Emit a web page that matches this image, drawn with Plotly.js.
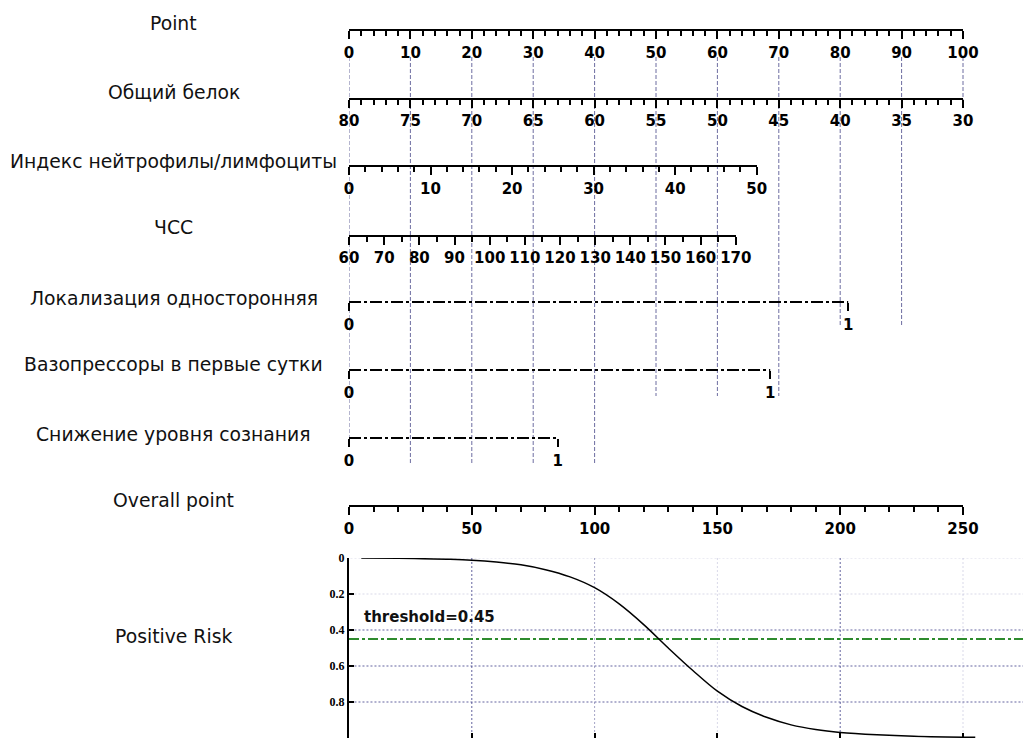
<!DOCTYPE html>
<html>
<head>
<meta charset="utf-8">
<script src="https://cdn.plot.ly/plotly-3.0.1.min.js"></script>
<style>html,body{margin:0;padding:0;background:#fff;}#chart{width:1023px;height:740px;}</style>
</head>
<body>
<div id="chart"></div>
<script>
// ---------------- DATA ----------------
const rowLabels = ['Point', 'Общий белок', 'Индекс нейтрофилы/лимфоциты', 'ЧСС',
  'Локализация односторонняя', 'Вазопрессоры в первые сутки', 'Снижение уровня сознания',
  'Overall point', 'Positive Risk'];

const pointRange   = [0, 100];
const proteinRange = [80, 30];   const proteinPts = [0, 100];
const nlrRange     = [0, 50];    const nlrPts     = [0, 66.4];
const hrRange      = [60, 170];  const hrPts      = [0, 63.0];
const localRange   = [0, 1];     const localPts   = [0, 81.3];
const vasoRange    = [0, 1];     const vasoPts    = [0, 68.6];
const conscRange   = [0, 1];     const conscPts   = [0, 34.0];
const overallRange = [0, 250];

const guidePoints = [0, 10, 20, 30, 40, 50, 60, 70, 80, 90, 100];

const riskOverall = [5, 20, 30, 40, 50, 60, 70, 80, 90, 100, 110, 120, 130, 140, 150, 160, 170, 180, 190, 200, 215, 230, 255];
const riskValues  = [0.0, 0.002, 0.004, 0.007, 0.012, 0.022, 0.038, 0.065, 0.105, 0.165, 0.255, 0.37, 0.5, 0.625, 0.74, 0.825, 0.885, 0.927, 0.953, 0.969, 0.982, 0.99, 0.996];
const threshold = 0.45;
const riskTicks = [0, 0.2, 0.4, 0.6, 0.8, 1];
const riskTickText = ['0', '0.2', '0.4', '0.6', '0.8', '1'];
const riskXTicks = [50, 100, 150, 200, 250];

// ---------------- LAYOUT GEOMETRY / STYLE ----------------
const H = 740, L = 349, W = 674, PTS_PX = 614;      // plot area; 100 points = 614 px
const rowY = {point: 30, protein: 99, nlr: 166, hr: 236, local: 302, vaso: 370, consc: 438, overall: 506};
const labelY = [23, 93, 161, 228, 298, 365, 434, 500, 636];
const labelCx = 174;
const guideTop = 57;
const guideEnds = [440, 463, 463, 463, 463, 396, 396, 396, 327, 327, 100];
const riskTop = 558, riskBottom = 738;
const gridStrong = 'rgba(60,60,135,0.8)', gridMid = 'rgba(90,90,150,0.55)', gridFaint = 'rgba(130,130,180,0.3)';
const hGridColors = [gridFaint, gridFaint, gridStrong, gridStrong, gridStrong];
const vGridColors = [gridStrong, gridMid, gridFaint, gridStrong, gridFaint];

const helperMax = 100 * W / PTS_PX;
const riskXMax = overallRange[1] * W / PTS_PX;
const frac = p => p / 100 * PTS_PX / W;
const pos = y => 1 - y / H;

const tickFont = {family: 'DejaVu Sans', size: 15, weight: 'bold', color: 'black'};

function scaleAxis(range, ptsEnd, y, opts) {
  const ax = {
    domain: [0, frac(ptsEnd)], range: range, autorange: false,
    anchor: 'free', position: pos(y), side: 'bottom',
    showline: true, linewidth: 2, linecolor: 'black',
    ticks: 'outside', ticklen: 8, tickwidth: 2, tickcolor: 'black',
    showgrid: false, zeroline: false, tickfont: tickFont, fixedrange: true,
    ticklabelstandoff: 1
  };
  return Object.assign(ax, opts || {});
}
function minor(d) { return {dtick: d, ticklen: 5, tickwidth: 2, tickcolor: 'black', ticks: 'outside', showgrid: false}; }

const layout = {
  width: 1023, height: 740,
  margin: {l: L, r: 0, t: 0, b: 0},
  paper_bgcolor: 'white', plot_bgcolor: 'rgba(0,0,0,0)',
  showlegend: false,
  xaxis: {domain: [0, 1], range: [0, helperMax], visible: false, fixedrange: true},
  yaxis: {domain: [0, 1], range: [H, 0], visible: false, fixedrange: true},
  xaxis2: scaleAxis(pointRange, 100, rowY.point, {dtick: 10, tick0: 0, minor: minor(2)}),
  xaxis3: scaleAxis(proteinRange, proteinPts[1], rowY.protein, {dtick: 5, tick0: 30, minor: minor(1), ticklabelstandoff: 0}),
  xaxis4: scaleAxis(nlrRange, nlrPts[1], rowY.nlr, {dtick: 10, tick0: 0, minor: minor(2)}),
  xaxis5: scaleAxis(hrRange, hrPts[1], rowY.hr, {dtick: 10, tick0: 60, minor: minor(5), ticklabelstandoff: 0}),
  xaxis6: scaleAxis(localRange, localPts[1], rowY.local, {showline: false, tickmode: 'array', tickvals: [0, 1], ticktext: ['0', '1']}),
  xaxis7: scaleAxis(vasoRange, vasoPts[1], rowY.vaso, {showline: false, tickmode: 'array', tickvals: [0, 1], ticktext: ['0', '1']}),
  xaxis8: scaleAxis(conscRange, conscPts[1], rowY.consc, {showline: false, tickmode: 'array', tickvals: [0, 1], ticktext: ['0', '1']}),
  xaxis9: scaleAxis(overallRange, 100, rowY.overall, {dtick: 50, tick0: 0, minor: minor(10)}),
  xaxis10: {
    domain: [0, 1], range: [0, riskXMax], autorange: false,
    anchor: 'y2', side: 'bottom', showline: false, zeroline: false,
    tickmode: 'array', tickvals: riskXTicks, showticklabels: false,
    ticks: 'inside', ticklen: 5, tickwidth: 2, tickcolor: 'black',
    showgrid: false, fixedrange: true
  },
  yaxis2: {
    domain: [1 - riskBottom / H, 1 - riskTop / H], range: [1, 0], autorange: false,
    anchor: 'x10', side: 'left', showline: true, linewidth: 2, linecolor: 'black',
    zeroline: false, tickmode: 'array', tickvals: riskTicks, ticktext: riskTickText,
    ticks: 'inside', ticklen: 5, tickwidth: 2, tickcolor: 'black',
    tickfont: {family: 'Liberation Serif', size: 12, weight: 'bold', color: 'black'},
    showgrid: false, fixedrange: true
  },
  annotations: []
};

rowLabels.forEach((t, i) => {
  layout.annotations.push({
    text: t, xref: 'paper', yref: 'paper', x: (labelCx - L) / W, y: pos(labelY[i]),
    xanchor: 'center', yanchor: 'middle', showarrow: false,
    font: {family: 'DejaVu Sans', size: 18.8, color: '#111'}
  });
});
layout.annotations.push({
  text: 'threshold=' + threshold, xref: 'x10', yref: 'y2', x: 5.3, y: 0.33,
  xanchor: 'left', yanchor: 'middle', showarrow: false,
  font: {family: 'DejaVu Sans', size: 15, weight: 'bold', color: '#111'}
});

// ---------------- TRACES ----------------
const traces = [];
// invisible traces so every scale axis gets a subplot
[['x2', pointRange], ['x3', proteinRange], ['x4', nlrRange], ['x5', hrRange],
 ['x6', localRange], ['x7', vasoRange], ['x8', conscRange], ['x9', overallRange]].forEach(([ax, r]) => {
  traces.push({x: r, y: [0, 0], xaxis: ax, yaxis: 'y', mode: 'lines', opacity: 0, hoverinfo: 'skip', line: {width: 1}});
});

// vertical guide lines from the Point scale
const gx = [], gy = [];
guidePoints.forEach((p, i) => { gx.push(p, p, null); gy.push(guideTop, guideEnds[i], null); });
traces.push({x: gx, y: gy, xaxis: 'x', yaxis: 'y', mode: 'lines', hoverinfo: 'skip',
  line: {color: 'rgba(60,60,130,0.75)', width: 1, dash: '4px,2px'}});

// binary scales as dash-dot lines
[[localPts, rowY.local], [vasoPts, rowY.vaso], [conscPts, rowY.consc]].forEach(([pts, y]) => {
  traces.push({x: pts, y: [y, y], xaxis: 'x', yaxis: 'y', mode: 'lines', hoverinfo: 'skip',
    line: {color: 'black', width: 2, dash: '12px,3px,3px,3px'}});
});

// risk grid lines
riskTicks.slice(0, -1).forEach((v, i) => {
  traces.push({x: [0.6, riskXMax], y: [v, v], xaxis: 'x10', yaxis: 'y2', mode: 'lines', hoverinfo: 'skip',
    line: {color: hGridColors[i], width: 1, dash: '2px,2px'}});
});
riskXTicks.forEach((v, i) => {
  traces.push({x: [v, v], y: [0, 1], xaxis: 'x10', yaxis: 'y2', mode: 'lines', hoverinfo: 'skip',
    line: {color: vGridColors[i], width: 1, dash: '2px,2px'}});
});

// threshold line
traces.push({x: [0, riskXMax], y: [threshold, threshold], xaxis: 'x10', yaxis: 'y2', mode: 'lines',
  hoverinfo: 'skip', line: {color: '#2e8b2e', width: 2, dash: '10px,3px,3px,3px'}});

// risk curve
traces.push({x: riskOverall, y: riskValues, xaxis: 'x10', yaxis: 'y2', mode: 'lines',
  line: {color: 'black', width: 1.5, shape: 'spline', smoothing: 1}});

Plotly.newPlot('chart', traces, layout, {staticPlot: true});
</script>
</body>
</html>
